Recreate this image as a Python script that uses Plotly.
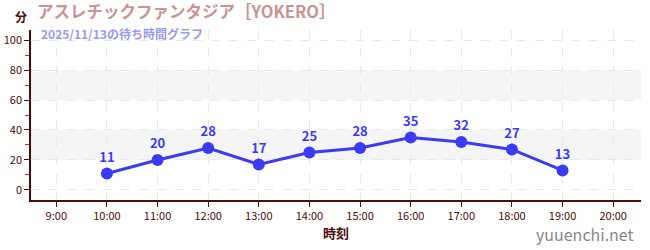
import plotly.graph_objects as go

times = ["10:00", "11:00", "12:00", "13:00", "14:00", "15:00", "16:00", "17:00", "18:00", "19:00"]
waits = [11, 20, 28, 17, 25, 28, 35, 32, 27, 13]
tick_labels = ["9:00", "10:00", "11:00", "12:00", "13:00", "14:00", "15:00", "16:00", "17:00", "18:00", "19:00", "20:00"]
y_ticks = [0, 20, 40, 60, 80, 100]

def to_h(s):
    h, m = s.split(":")
    return int(h) + int(m) / 60

xs = [to_h(t) for t in times]
tick_vals = [to_h(t) for t in tick_labels]

dark = "#4d0a0a"
W, H = 650, 250
l, r, t, b = 31, 9, 30, 50
pw, ph = W - l - r, H - t - b

def px(x):
    return (x - l) / pw

def py(y):
    return (H - b - y) / ph

fig = go.Figure()
fig.add_trace(go.Scatter(
    x=xs, y=waits, mode="lines+markers+text",
    line=dict(color="#3b3bf5", width=3),
    marker=dict(color="#3b3bf5", size=12),
    text=[str(v) for v in waits], textposition="top center",
    textfont=dict(color="#3b3bf5", size=13, family="Noto Sans CJK JP", weight="bold"),
    cliponaxis=False, showlegend=False, hoverinfo="skip",
))

for y0, y1 in [(20, 40), (60, 80)]:
    fig.add_shape(type="rect", xref="paper", x0=0, x1=1, y0=y0, y1=y1,
                  fillcolor="#f5f5f5", line=dict(width=0), layer="below")

fig.update_layout(
    width=W, height=H,
    margin=dict(l=l, r=r, t=t, b=b),
    paper_bgcolor="white", plot_bgcolor="white",
    font=dict(family="Noto Sans CJK JP", color=dark),
    xaxis=dict(range=[8.5, 20.55], tickvals=tick_vals, ticktext=tick_labels,
               automargin=False,
               showgrid=True, gridcolor="#e8e8e8", griddash="dash", gridwidth=1,
               showline=True, linecolor=dark, linewidth=1.5, ticks="outside",
               tickcolor=dark, ticklen=5, tickfont=dict(size=11, color=dark),
               zeroline=False,
               title=dict(text="<b>時刻</b>", font=dict(size=13, color=dark), standoff=5)),
    yaxis=dict(range=[-6.7, 106.7], tickvals=y_ticks, automargin=False,
               showgrid=True, gridcolor="#e8e8e8", griddash="dash", gridwidth=1,
               showline=True, linecolor=dark, linewidth=1.5, ticks="outside",
               tickcolor=dark, ticklen=5, tickfont=dict(size=11, color=dark),
               zeroline=False,
               minor=dict(tickvals=[10, 30, 50, 70, 90], ticks="outside", ticklen=4,
                          tickcolor="#dd2222", showgrid=False)),
    annotations=[
        dict(text="<b>分</b>", x=px(21), y=py(16), xref="paper", yref="paper", showarrow=False,
             xanchor="center", yanchor="middle",
             font=dict(size=12, color=dark)),
        dict(text="アスレチックファンタジア［YOKERO］", x=px(35), y=py(11), xref="paper", yref="paper",
             showarrow=False, xanchor="left", yanchor="middle",
             font=dict(size=16.5, color="#c99494", family="Noto Sans CJK JP", weight="bold")),
        dict(text="2025/11/13の待ち時間グラフ", x=px(39), y=py(33), xref="paper", yref="paper",
             showarrow=False, xanchor="left", yanchor="middle",
             font=dict(size=12, color="#9a9af5", family="Noto Sans CJK JP", weight="bold")),
        dict(text="yuuenchi.net", x=px(636), y=py(234), xref="paper", yref="paper",
             showarrow=False, xanchor="right", yanchor="middle",
             font=dict(size=16, color="#888888", family="Noto Sans CJK JP")),
    ],
)

fig.write_html("out.html")
